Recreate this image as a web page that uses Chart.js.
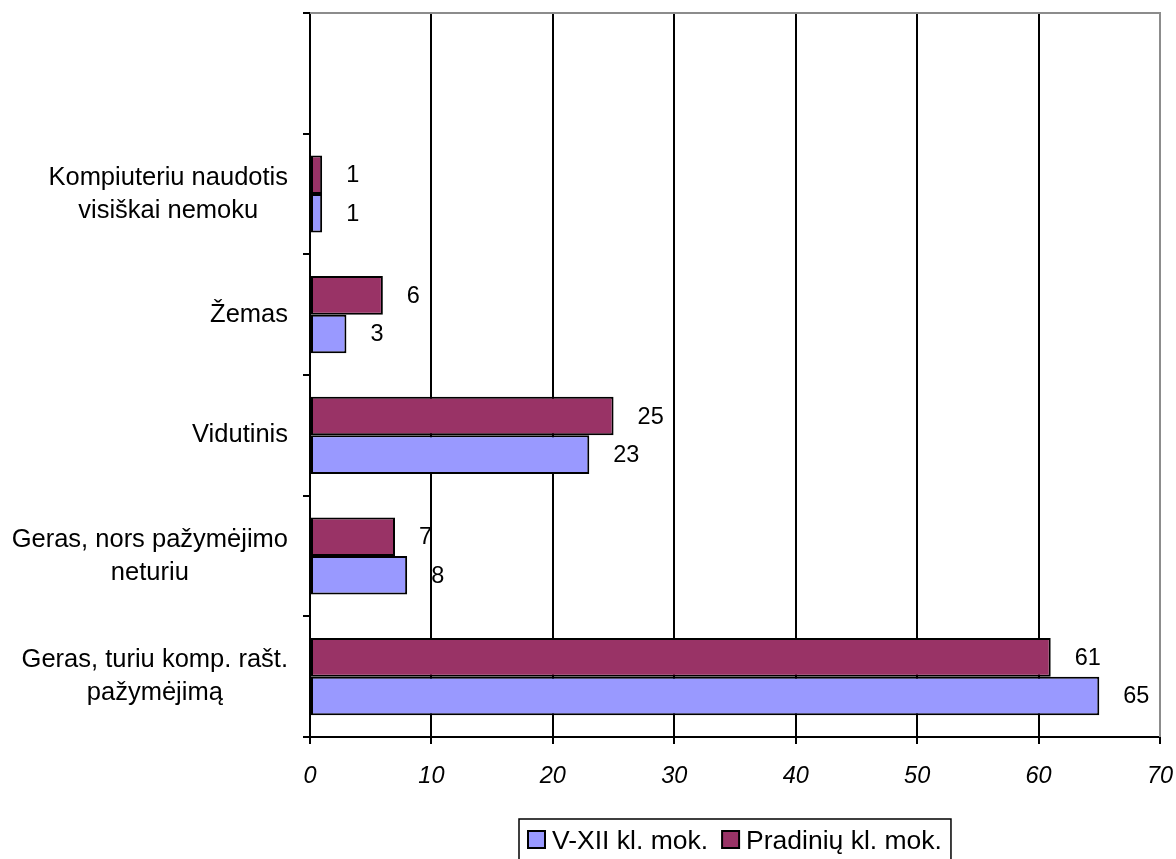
<!DOCTYPE html>
<html>
<head>
<meta charset="utf-8">
<title>Kompiuterinis raštingumas</title>
<script src="https://cdn.jsdelivr.net/npm/chart.js@4.4.1/dist/chart.umd.min.js"></script>
<style>
  html, body { margin: 0; padding: 0; background: #ffffff; }
  canvas { display: block; }
</style>
</head>
<body>
<canvas id="chart" width="1176" height="859"></canvas>
<script>
// Categories, top to bottom (the first slot is left empty)
const categories = [
  '',
  ['Kompiuteriu naudotis', 'visiškai nemoku'],
  'Žemas',
  'Vidutinis',
  ['Geras, nors pažymėjimo', 'neturiu'],
  ['Geras, turiu komp. rašt.', 'pažymėjimą']
];
const pradiniuValues = [null, 1, 6, 25, 7, 61];
const vxiiValues = [null, 1, 3, 23, 8, 65];
const seriesNames = ['Pradinių kl. mok.', 'V-XII kl. mok.'];
const xTickValues = [0, 10, 20, 30, 40, 50, 60, 70];

const FONT = '"Liberation Sans", Arial, sans-serif';

// Category labels: block right-aligned against the axis, lines centred inside the block
const categoryLabels = {
  id: 'categoryLabels',
  afterDraw(chart) {
    const ctx = chart.ctx;
    const y = chart.scales.y;
    ctx.save();
    ctx.font = '25.5px ' + FONT;
    ctx.fillStyle = '#000';
    ctx.textAlign = 'center';
    ctx.textBaseline = 'middle';
    const rightEdge = y.right - 22;
    const lineH = 33;
    categories.forEach((lab, i) => {
      const lines = Array.isArray(lab) ? lab : [lab];
      if (!lines.join('')) return;
      const maxW = Math.max(...lines.map(l => ctx.measureText(l).width));
      const cx = rightEdge - maxW / 2;
      const cy = y.getPixelForValue(i);
      const top = cy - (lines.length - 1) * lineH / 2;
      lines.forEach((l, k) => ctx.fillText(l, cx, top + k * lineH));
    });
    ctx.restore();
  }
};

// Value labels placed to the right of each bar
const valueLabels = {
  id: 'valueLabels',
  afterDatasetsDraw(chart) {
    const ctx = chart.ctx;
    ctx.save();
    ctx.font = '23.5px ' + FONT;
    ctx.fillStyle = '#000';
    ctx.textAlign = 'left';
    ctx.textBaseline = 'middle';
    chart.data.datasets.forEach((ds, di) => {
      const meta = chart.getDatasetMeta(di);
      meta.data.forEach((el, i) => {
        const v = ds.data[i];
        if (v === null || v === undefined) return;
        ctx.fillText(String(v), el.x + 24, el.y + 1);
      });
    });
    ctx.restore();
  }
};

// Gray frame along the top and right of the plot area
const plotFrame = {
  id: 'plotFrame',
  beforeDatasetsDraw(chart) {
    const a = chart.chartArea;
    const ctx = chart.ctx;
    ctx.save();
    ctx.strokeStyle = '#8c8c8c';
    ctx.lineWidth = 2;
    ctx.beginPath();
    ctx.moveTo(a.left, a.top);
    ctx.lineTo(a.right, a.top);
    ctx.lineTo(a.right, a.bottom);
    ctx.stroke();
    ctx.restore();
  }
};

// Boxed legend below the axis (series listed in reverse dataset order)
const boxedLegend = {
  id: 'boxedLegend',
  afterDraw(chart) {
    const ctx = chart.ctx;
    ctx.save();
    ctx.font = '26.5px ' + FONT;
    ctx.textBaseline = 'alphabetic';
    ctx.textAlign = 'left';
    const items = chart.data.datasets.map(d => ({ text: d.label, color: d.backgroundColor })).reverse();
    const sw = 17, gapSwatch = 7, gapItem = 14, padX = 9;
    let total = padX * 2;
    items.forEach((it, k) => {
      total += sw + gapSwatch + ctx.measureText(it.text).width + (k < items.length - 1 ? gapItem : 0);
    });
    const a = chart.chartArea;
    const cx = (a.left + a.right) / 2;
    const bx = Math.round(cx - total / 2);
    const by = 819;
    ctx.strokeStyle = '#000';
    ctx.lineWidth = 1.5;
    ctx.strokeRect(bx, by, total, 60);
    let x = bx + padX;
    const baseY = 849;
    items.forEach(it => {
      ctx.fillStyle = it.color;
      ctx.fillRect(x, baseY - 18, sw, sw);
      ctx.lineWidth = 2;
      ctx.strokeRect(x, baseY - 18, sw, sw);
      x += sw + gapSwatch;
      ctx.fillStyle = '#000';
      ctx.fillText(it.text, x, baseY);
      x += ctx.measureText(it.text).width + gapItem;
    });
    ctx.restore();
  }
};

new Chart(document.getElementById('chart'), {
  type: 'bar',
  data: {
    labels: categories,
    datasets: [
      {
        label: seriesNames[0],
        data: pradiniuValues,
        backgroundColor: '#993366',
        borderColor: '#000',
        borderWidth: 2,
        borderSkipped: false
      },
      {
        label: seriesNames[1],
        data: vxiiValues,
        backgroundColor: '#9999ff',
        borderColor: '#000',
        borderWidth: 2,
        borderSkipped: false
      }
    ]
  },
  options: {
    indexAxis: 'y',
    responsive: false,
    animation: false,
    layout: { padding: { top: 13, right: 16, left: 0, bottom: 0 } },
    datasets: { bar: { categoryPercentage: 0.64, barPercentage: 1.0 } },
    plugins: {
      legend: { display: false },
      tooltip: { enabled: false },
      title: { display: false }
    },
    scales: {
      x: {
        type: 'linear',
        min: xTickValues[0],
        max: xTickValues[xTickValues.length - 1],
        afterBuildTicks(scale) { scale.ticks = xTickValues.map(v => ({ value: v })); },
        afterFit(scale) {
          scale.height = 122;
          scale.paddingLeft = 0;
          scale.paddingRight = 0;
        },
        ticks: {
          font: { family: FONT, size: 23.5, style: 'italic' },
          color: '#000',
          padding: 18,
          maxRotation: 0
        },
        grid: {
          color: c => (c.tick && c.tick.value === 70) ? '#8c8c8c' : '#000',
          tickColor: '#000',
          lineWidth: 2,
          tickLength: 7
        },
        border: { color: '#000', width: 2 }
      },
      y: {
        type: 'category',
        offset: true,
        afterFit(scale) {
          scale.width = 310;
          scale.paddingTop = 0;
          scale.paddingBottom = 0;
        },
        ticks: { display: false },
        grid: {
          offset: true,
          drawOnChartArea: false,
          drawTicks: true,
          tickLength: 7,
          color: '#000',
          lineWidth: 2
        },
        border: { color: '#000', width: 2 }
      }
    }
  },
  plugins: [plotFrame, valueLabels, categoryLabels, boxedLegend]
});
</script>
</body>
</html>
